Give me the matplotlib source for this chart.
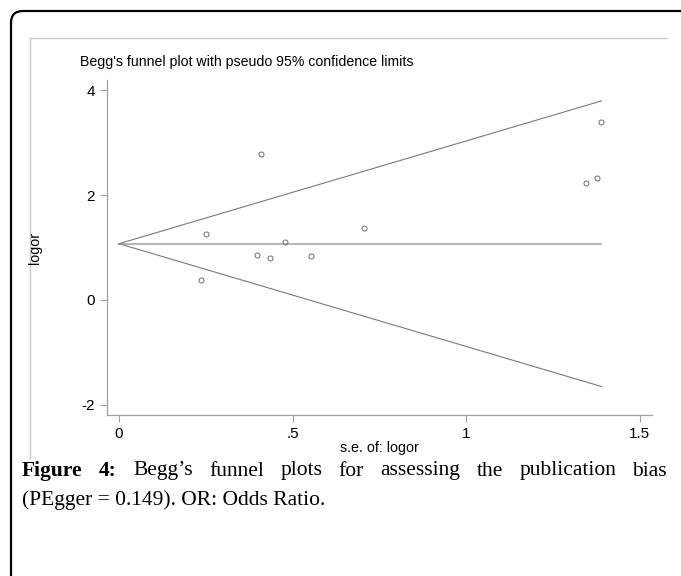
import numpy as np
import matplotlib
matplotlib.use("Agg")
import matplotlib.pyplot as plt
from matplotlib.patches import FancyBboxPatch

plt.rcParams["axes.unicode_minus"] = False

# study data
se = [0.237, 0.252, 0.398, 0.410, 0.436, 0.478, 0.552, 0.707, 1.345, 1.378, 1.390]
logor = [0.376, 1.254, 0.865, 2.792, 0.802, 1.107, 0.840, 1.368, 2.233, 2.323, 3.397]
pooled = 1.074

xticks = [0, 0.5, 1, 1.5]
xticklabels = ["0", ".5", "1", "1.5"]
yticks = [-2, 0, 2, 4]

title = "Begg's funnel plot with pseudo 95% confidence limits"
caption1 = ["Figure", "4:", "Begg\u2019s", "funnel", "plots", "for", "assessing",
            "the", "publication", "bias"]
caption2 = "(PEgger = 0.149). OR: Odds Ratio."

W, H = 681, 576
fig = plt.figure(figsize=(W / 100, H / 100), dpi=100)
fig.patch.set_facecolor("white")

# background axes in pixel coordinates for the frames
bg = fig.add_axes([0, 0, 1, 1])
bg.set_xlim(0, W)
bg.set_ylim(H, 0)
bg.axis("off")
bg.add_patch(FancyBboxPatch((11, 11), 720, 620, boxstyle="round,pad=0,rounding_size=12",
                            fc="none", ec="black", lw=1.6))
bg.plot([30, 667], [38, 38], color="#c6ccc6", lw=1)
bg.plot([30, 30], [38, 458], color="#c8c8c8", lw=1)

# funnel plot axes
left, right, top, bottom = 107, 652, 80, 415
ax = fig.add_axes([left / W, (H - bottom) / H, (right - left) / W, (bottom - top) / H])
ax.set_xlim(-0.0346, 1.536)
ax.set_ylim(-2.195, 4.198)

smax = max(se)
s_line = np.array([0, smax])
ax.plot(s_line, [pooled, pooled], color="#b0b0b0", lw=1.3)
ax.plot(s_line, pooled + 1.96 * s_line, color="#7a7a7a", lw=0.8)
ax.plot(s_line, pooled - 1.96 * s_line, color="#7a7a7a", lw=0.8)
ax.plot(se, logor, "o", mfc="none", mec="#6e6e6e", ms=3.6, mew=0.7)

for s in ["top", "right"]:
    ax.spines[s].set_visible(False)
for s in ["left", "bottom"]:
    ax.spines[s].set_color("#a0a0a0")
    ax.spines[s].set_linewidth(0.9)

ax.set_xticks(xticks)
ax.set_xticklabels(xticklabels)
ax.set_yticks(yticks)
ax.tick_params(colors="#a0a0a0", labelcolor="black", length=5, width=0.8, labelsize=11)
for lab in ax.get_xticklabels() + ax.get_yticklabels():
    lab.set_fontfamily("Liberation Sans")
ax.set_xlabel("s.e. of: logor", fontsize=10.3, fontfamily="Liberation Sans", labelpad=0)
ax.set_ylabel("logor", fontsize=10.3, fontfamily="Liberation Sans")
ax.yaxis.set_label_coords((42 - left) / (right - left), 0.5)
bg.text(80, 62, title, fontsize=10.2, fontfamily="Liberation Sans", va="center", ha="left")

# caption, first line justified
renderer = fig.canvas.get_renderer()
cap_font = dict(fontfamily="Liberation Serif", fontsize=15.5)
x0, x1, y1, y2 = 22, 667, 471, 500
texts = []
for i, w in enumerate(caption1):
    t = bg.text(0, y1, w, va="center", ha="left",
                fontweight="bold" if i < 2 else "normal", **cap_font)
    texts.append(t)
widths = [t.get_window_extent(renderer).width for t in texts]
gap = (x1 - x0 - sum(widths)) / (len(texts) - 1)
x = x0
for t, w in zip(texts, widths):
    t.set_x(x)
    x += w + gap
bg.text(x0, y2, caption2, va="center", ha="left", **cap_font)

fig.savefig("out.png", dpi=100)
